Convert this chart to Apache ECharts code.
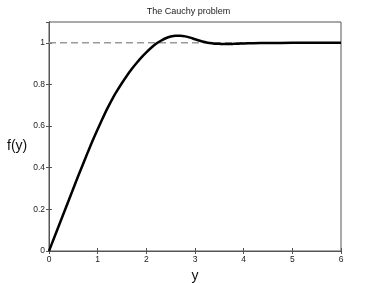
<!DOCTYPE html>
<html>
<head>
<meta charset="utf-8">
<script src="https://cdn.jsdelivr.net/npm/echarts@6/dist/echarts.min.js"></script>
<style>html,body{margin:0;padding:0;background:#fff;}#c{width:377px;height:283px;}</style>
</head>
<body>
<div id="c"></div>
<script>
var xs = [0,0.1,0.2,0.3,0.4,0.5,0.6,0.7,0.8,0.9,1.0,1.1,1.2,1.3,1.4,1.5,1.6,1.7,1.8,1.9,2.0,2.1,2.2,2.3,2.4,2.5,2.6,2.7,2.8,2.9,3.0,3.1,3.2,3.3,3.4,3.5,3.6,3.7,3.8,3.9,4.0,4.2,4.5,5.0,5.5,6.0];
var ys = [0,0.060,0.120,0.180,0.240,0.300,0.360,0.418,0.476,0.532,0.585,0.636,0.685,0.730,0.770,0.807,0.842,0.874,0.903,0.930,0.954,0.976,0.995,1.010,1.022,1.030,1.034,1.034,1.031,1.025,1.017,1.010,1.004,0.999,0.996,0.995,0.994,0.994,0.995,0.996,0.997,0.998,0.999,1.0,1.0,1.0];
var refX = [0,6];
var refY = [1,1];
var xTicks = [0,1,2,3,4,5,6];
var yTicks = [0,0.2,0.4,0.6,0.8,1];

var curve = xs.map(function(x,i){return [x, ys[i]];});
var ref = refX.map(function(x,i){return [x, refY[i]];});
var font = 'Liberation Sans, Arial, sans-serif';
var axisCol = '#555';

var chart = echarts.init(document.getElementById('c'));
chart.setOption({
  animation:false,
  title:{text:'The Cauchy problem', left:'center', top:2, textStyle:{fontSize:9, fontWeight:'normal', color:'#222', fontFamily:font}},
  grid:{left:49, right:36, top:22, bottom:32, show:true, borderColor:axisCol, borderWidth:1, containLabel:false, outerBoundsMode:'none'},
  xAxis:[{type:'value', min:0, max:6, interval:1, position:'bottom',
    name:'y', nameLocation:'middle', nameGap:18, nameTextStyle:{fontSize:14, color:'#111', fontFamily:font},
    axisLine:{show:true, lineStyle:{color:axisCol}}, axisTick:{show:true, inside:true, length:3, lineStyle:{color:axisCol}},
    axisLabel:{fontSize:8.5, color:'#222', margin:4, fontFamily:font, formatter:function(v){return xTicks.indexOf(v)>=0?String(v):'';}},
    splitLine:{show:false}},
   {type:'value', min:0, max:6, interval:1, position:'top',
    axisLine:{show:true, lineStyle:{color:axisCol}}, axisTick:{show:true, inside:true, length:3, lineStyle:{color:axisCol}},
    axisLabel:{show:false}, splitLine:{show:false}}],
  yAxis:[{type:'value', min:0, max:1.1, interval:0.2, position:'left',
    name:'f(y)', nameLocation:'middle', nameGap:9, nameRotate:0,
    nameTextStyle:{fontSize:14, color:'#111', fontFamily:font, align:'right', verticalAlign:'top', padding:[3,0,0,0]},
    axisLine:{show:true, lineStyle:{color:axisCol}}, axisTick:{show:true, inside:true, length:3, lineStyle:{color:axisCol}},
    axisLabel:{fontSize:8.5, color:'#222', margin:4, fontFamily:font, showMaxLabel:false,
      formatter:function(v){var r=Math.round(v*10)/10; return yTicks.indexOf(r)>=0?String(r):'';}},
    splitLine:{show:false}},
   {type:'value', min:0, max:1.1, interval:0.2, position:'right',
    axisLine:{show:true, lineStyle:{color:axisCol}}, axisTick:{show:true, inside:true, length:3, lineStyle:{color:axisCol}},
    axisLabel:{show:false}, splitLine:{show:false}}],
  series:[
    {type:'line', data:ref, symbol:'none', silent:true, lineStyle:{color:'#999', width:1.5, type:[7,4]}},
    {type:'line', data:curve, symbol:'none', smooth:0.3, lineStyle:{color:'#000', width:2.5}}
  ]
});
</script>
</body>
</html>
